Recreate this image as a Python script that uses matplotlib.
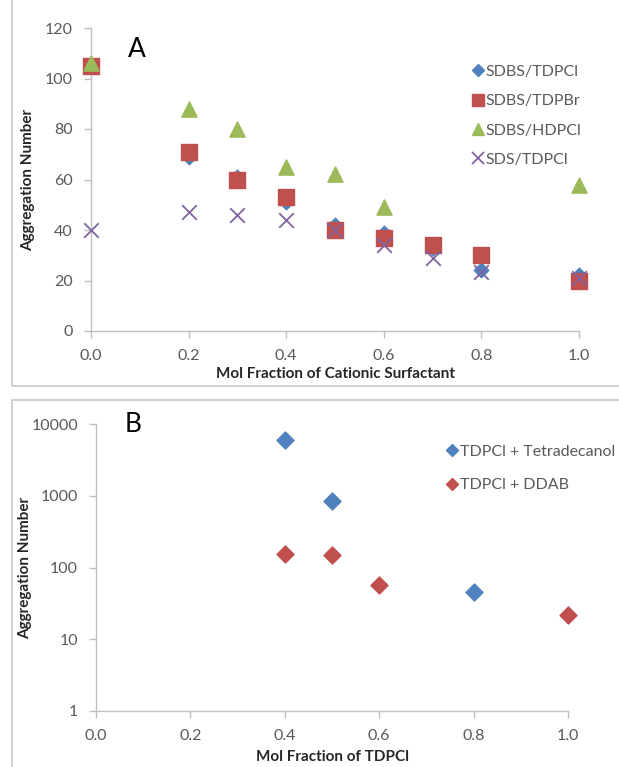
import matplotlib
matplotlib.use("Agg")
import matplotlib.pyplot as plt
from matplotlib.patches import Rectangle
from matplotlib.lines import Line2D

plt.rcParams['font.family'] = ['Lato', 'DejaVu Sans']

# Panel A data
xa_tdpcl = [0.0, 0.2, 0.3, 0.4, 0.5, 0.6, 0.7, 0.8, 1.0]
ya_sdbs_tdpcl = [105, 69, 61, 51, 42, 39, 33, 24, 22]
xa_tdpbr = [0.0, 0.2, 0.3, 0.4, 0.5, 0.6, 0.7, 0.8, 1.0]
ya_sdbs_tdpbr = [105, 71, 60, 53, 40, 37, 34, 30, 20]
xa_hdpcl = [0.0, 0.2, 0.3, 0.4, 0.5, 0.6, 1.0]
ya_sdbs_hdpcl = [106, 88, 80, 65, 62, 49, 58]
xa_sds = [0.0, 0.2, 0.3, 0.4, 0.5, 0.6, 0.7, 0.8, 1.0]
ya_sds_tdpcl = [40, 47, 46, 44, 40, 34, 29, 23.5, 21]

# Panel B data
xb_tetra = [0.4, 0.5, 0.8]
yb_tetra = [6000, 850, 45]
xb_ddab = [0.4, 0.5, 0.6, 1.0]
yb_ddab = [155, 150, 57, 22]

xticks = [0.0, 0.2, 0.4, 0.6, 0.8, 1.0]
a_yticks = [0, 20, 40, 60, 80, 100, 120]
b_yticks = [1, 10, 100, 1000, 10000]

BLUE = '#4F81BD'
RED = '#C0504D'
GREEN = '#9BBB59'
PURPLE = '#8064A2'
AXC = '#BFBFBF'
TXT = '#595959'

W, H = 619, 767
fig = plt.figure(figsize=(W / 100, H / 100), dpi=100)

def fc(x0, y0, x1, y1):
    return [x0 / W, 1 - y1 / H, (x1 - x0) / W, (y1 - y0) / H]

# Panel frames
fig.patches.append(Rectangle((12 / W, 1 - 386 / H), 700 / W, 400 / H, transform=fig.transFigure,
                             fill=False, edgecolor='#C8C8C8', lw=1.2, zorder=0))
fig.patches.append(Rectangle((12 / W, -0.05), 700 / W, (1 - 400 / H) + 0.05, transform=fig.transFigure,
                             fill=False, edgecolor='#C8C8C8', lw=1.2, zorder=0))

def style(ax):
    for s in ['top', 'right']:
        ax.spines[s].set_visible(False)
    for s in ['left', 'bottom']:
        ax.spines[s].set_color(AXC)
        ax.spines[s].set_linewidth(1.0)
    ax.tick_params(axis='both', colors=AXC, labelcolor=TXT, labelsize=11.5, length=5, width=1.0)
    ax.tick_params(axis='x', pad=8)
    ax.tick_params(axis='y', pad=8)
    ax.set_xticks(xticks)
    ax.set_xticklabels([f"{v:.1f}" for v in xticks])
    ax.set_xlim(0, 1.0)

# Panel A
axA = fig.add_axes(fc(91, 28, 579, 331))
style(axA)
axA.set_ylim(0, 120)
axA.set_yticks(a_yticks)
axA.scatter(xa_tdpcl, ya_sdbs_tdpcl, marker='D', s=55, color=BLUE, zorder=3, clip_on=False)
axA.scatter(xa_tdpbr, ya_sdbs_tdpbr, marker='s', s=120, color=RED, zorder=4, clip_on=False)
axA.scatter(xa_hdpcl, ya_sdbs_hdpcl, marker='^', s=120, color=GREEN, zorder=5, clip_on=False)
axA.scatter(xa_sds, ya_sds_tdpcl, marker='x', s=110, color=PURPLE, linewidths=1.3, zorder=6, clip_on=False)
axA.set_xlabel('Mol Fraction of Cationic Surfactant', fontsize=11, fontweight='bold', color='#262626')
axA.set_ylabel('Aggregation Number', fontsize=11, fontweight='bold', color='#262626')
axA.xaxis.set_label_coords(0.5, -0.12)
axA.yaxis.set_label_coords(-0.115, 0.5)
axA.text(0.075, 0.93, 'A', transform=axA.transAxes, fontsize=19, color='black', ha='left', va='center')
handlesA = [Line2D([], [], marker='D', ls='none', color=BLUE, markersize=6),
            Line2D([], [], marker='s', ls='none', color=RED, markersize=9),
            Line2D([], [], marker='^', ls='none', color=GREEN, markersize=9),
            Line2D([], [], marker='x', ls='none', color=PURPLE, markersize=9, markeredgewidth=1.3)]
legA = axA.legend(handlesA, ['SDBS/TDPCl', 'SDBS/TDPBr', 'SDBS/HDPCl', 'SDS/TDPCl'],
                  loc='upper left', bbox_to_anchor=(0.77, 0.9), frameon=False, fontsize=11.5,
                  handlelength=0.6, handletextpad=0.2, labelspacing=0.95, borderaxespad=0)
for t in legA.get_texts():
    t.set_color(TXT)

# Panel B
axB = fig.add_axes(fc(96, 424, 568, 711))
style(axB)
axB.set_yscale('log')
axB.set_ylim(1, 10000)
axB.set_yticks(b_yticks)
axB.set_yticklabels([str(v) for v in b_yticks])
axB.minorticks_off()
axB.scatter(xb_tetra, yb_tetra, marker='D', s=75, color=BLUE, zorder=3, clip_on=False)
axB.scatter(xb_ddab, yb_ddab, marker='D', s=75, color=RED, zorder=3, clip_on=False)
axB.set_xlabel('Mol Fraction of TDPCl', fontsize=11, fontweight='bold', color='#262626')
axB.set_ylabel('Aggregation Number', fontsize=11, fontweight='bold', color='#262626')
axB.xaxis.set_label_coords(0.5, -0.135)
axB.yaxis.set_label_coords(-0.136, 0.5)
axB.text(0.06, 1.0, 'B', transform=axB.transAxes, fontsize=19, color='black', ha='left', va='center')
handlesB = [Line2D([], [], marker='D', ls='none', color=BLUE, markersize=6),
            Line2D([], [], marker='D', ls='none', color=RED, markersize=6)]
legB = axB.legend(handlesB, ['TDPCl + Tetradecanol', 'TDPCl + DDAB'],
                  loc='upper left', bbox_to_anchor=(0.73, 0.95), frameon=False, fontsize=11.5,
                  handlelength=0.6, handletextpad=0.2, labelspacing=1.2, borderaxespad=0)
for t in legB.get_texts():
    t.set_color(TXT)

fig.savefig('out.png', dpi=100)
